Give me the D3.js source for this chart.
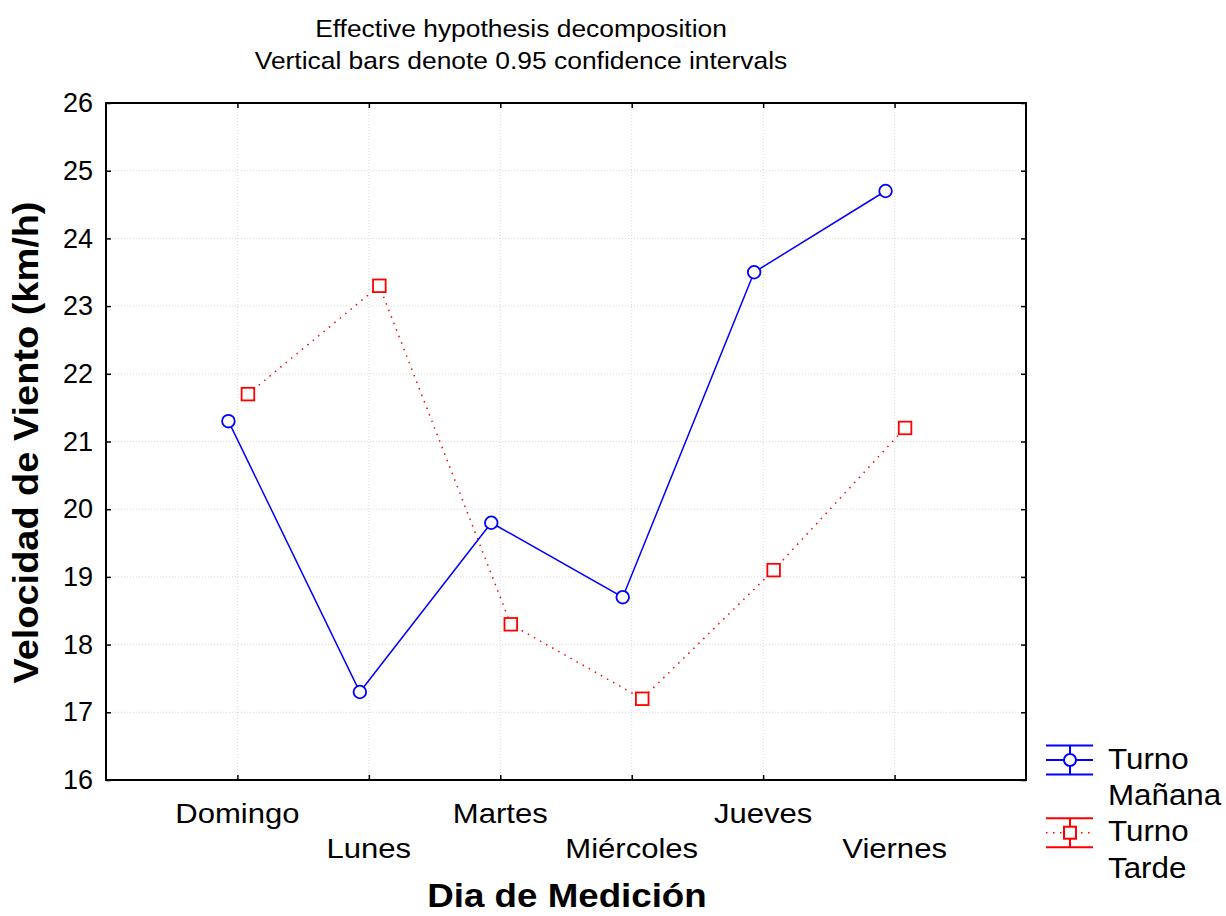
<!DOCTYPE html>
<html><head><meta charset="utf-8">
<script src="https://cdn.jsdelivr.net/npm/d3@7"></script>
<style>body{margin:0;background:#fff;} svg{display:block;font-family:"Liberation Sans",Arial,sans-serif;}</style>
</head><body>
<script>
const categories = ["Domingo","Lunes","Martes","Miércoles","Jueves","Viernes"];
const manana = [21.3, 17.3, 19.8, 18.7, 23.5, 24.7];
const tarde = [21.7, 23.3, 18.3, 17.2, 19.1, 21.2];
const yTicks = [16,17,18,19,20,21,22,23,24,25,26];
const titleLines = ["Effective hypothesis decomposition","Vertical bars denote 0.95 confidence intervals"];
const legendLabels = [["Turno","Mañana"],["Turno","Tarde"]];

const W=1226,H=916;
const m={left:106,right:1026,top:103,bottom:780};
const svg=d3.select("body").append("svg").attr("width",W).attr("height",H);

const x=d3.scalePoint().domain(["_a",...categories,"_b"]).range([m.left,m.right]);
const y=d3.scaleLinear().domain([16,26]).range([m.bottom,m.top]);

function txt(parent,t,px,py,opt){
  const sx=opt.sx||1, rot=opt.rot?` rotate(${opt.rot})`:"";
  return parent.append("text").attr("transform",`translate(${px},${py})${rot} scale(${sx},1)`)
    .attr("text-anchor",opt.anchor||"start").attr("font-size",opt.fs)
    .attr("font-weight",opt.bold?"bold":null).attr("fill","#000").text(t);
}

// grid
const grid=svg.append("g").attr("stroke","#d8d8d8").attr("stroke-width",1).attr("stroke-dasharray","1,2");
yTicks.slice(1,-1).forEach(t=>grid.append("line").attr("x1",m.left).attr("x2",m.right).attr("y1",y(t)).attr("y2",y(t)));
categories.forEach(c=>grid.append("line").attr("x1",x(c)).attr("x2",x(c)).attr("y1",m.top).attr("y2",m.bottom));

// axes
const gl=svg.append("g").attr("transform",`translate(${m.left},0)`)
 .call(d3.axisLeft(y).tickValues(yTicks).tickSize(-5).tickPadding(13));
const gr=svg.append("g").attr("transform",`translate(${m.right},0)`)
 .call(d3.axisRight(y).tickValues(yTicks).tickSize(-5).tickFormat(""));
const gt=svg.append("g").attr("transform",`translate(0,${m.top})`)
 .call(d3.axisTop(x).tickValues(categories).tickSize(-5).tickFormat(""));
const gb=svg.append("g").attr("transform",`translate(0,${m.bottom})`)
 .call(d3.axisBottom(x).tickValues(categories).tickSize(-5).tickFormat(""));
[gl,gr,gt,gb].forEach(g=>{g.select(".domain").remove();g.selectAll("line").attr("stroke","#000").attr("stroke-width",1.5);});
gl.selectAll("text").attr("font-size",27).attr("fill","#000").attr("font-family","Liberation Sans, Arial, sans-serif");
svg.append("rect").attr("x",m.left).attr("y",m.top).attr("width",m.right-m.left).attr("height",m.bottom-m.top)
 .attr("fill","none").attr("stroke","#000").attr("stroke-width",2);

// category labels staggered
const gc=svg.append("g");
categories.forEach((c,i)=>txt(gc,c,x(c),i%2===0?823:858,{fs:27,sx:1.15,anchor:"middle"}));

// titles
titleLines.forEach((t,i)=>txt(svg,t,521,i===0?37:69,{fs:24,sx:1.1,anchor:"middle"}));
txt(svg,"Dia de Medición",567,907,{fs:34,sx:1.08,anchor:"middle",bold:true});
txt(svg,"Velocidad de Viento (km/h)",37.5,442.5,{fs:34.5,sx:1.1,anchor:"middle",bold:true,rot:-90});

const offB=-9, offR=10.5;
const blue="#0000ff", red="#ff0000";
const lineB=d3.line().x((d,i)=>x(categories[i])+offB).y(d=>y(d));
const lineR=d3.line().x((d,i)=>x(categories[i])+offR).y(d=>y(d));
svg.append("path").attr("d",lineR(tarde)).attr("fill","none").attr("stroke",red).attr("stroke-width",1.5).attr("stroke-dasharray","1.5,5.5");
svg.append("path").attr("d",lineB(manana)).attr("fill","none").attr("stroke",blue).attr("stroke-width",1.5);
svg.append("g").selectAll("circle").data(manana).join("circle")
 .attr("cx",(d,i)=>x(categories[i])+offB).attr("cy",d=>y(d)).attr("r",6.3)
 .attr("fill","#fff").attr("stroke",blue).attr("stroke-width",1.8);
svg.append("g").selectAll("rect").data(tarde).join("rect")
 .attr("x",(d,i)=>x(categories[i])+offR-6.3).attr("y",d=>y(d)-6.3).attr("width",12.6).attr("height",12.6)
 .attr("fill","#fff").attr("stroke",red).attr("stroke-width",1.8);

// legend
const leg=svg.append("g");
function legItem(cy,color,dashed,marker,lines){
  const g=leg.append("g").attr("stroke",color).attr("stroke-width",2);
  g.append("line").attr("x1",1046).attr("x2",1093).attr("y1",cy-14.5).attr("y2",cy-14.5);
  g.append("line").attr("x1",1046).attr("x2",1093).attr("y1",cy+14.5).attr("y2",cy+14.5);
  g.append("line").attr("x1",1070).attr("x2",1070).attr("y1",cy-14.5).attr("y2",cy+14.5);
  g.append("line").attr("x1",1046).attr("x2",1093).attr("y1",cy).attr("y2",cy).attr("stroke-width",dashed?1.5:2).attr("stroke-dasharray",dashed?"1.5,5.5":null);
  if(marker==="circle") g.append("circle").attr("cx",1070).attr("cy",cy).attr("r",6).attr("fill","#fff");
  else g.append("rect").attr("x",1064).attr("y",cy-6).attr("width",12).attr("height",12).attr("fill","#fff");
  lines.forEach((t,i)=>txt(leg,t,1108,cy+8.5+i*36.7,{fs:29,sx:1.08}));
}
legItem(760,blue,false,"circle",legendLabels[0]);
legItem(832.7,red,true,"rect",legendLabels[1]);
</script>
</body></html>
